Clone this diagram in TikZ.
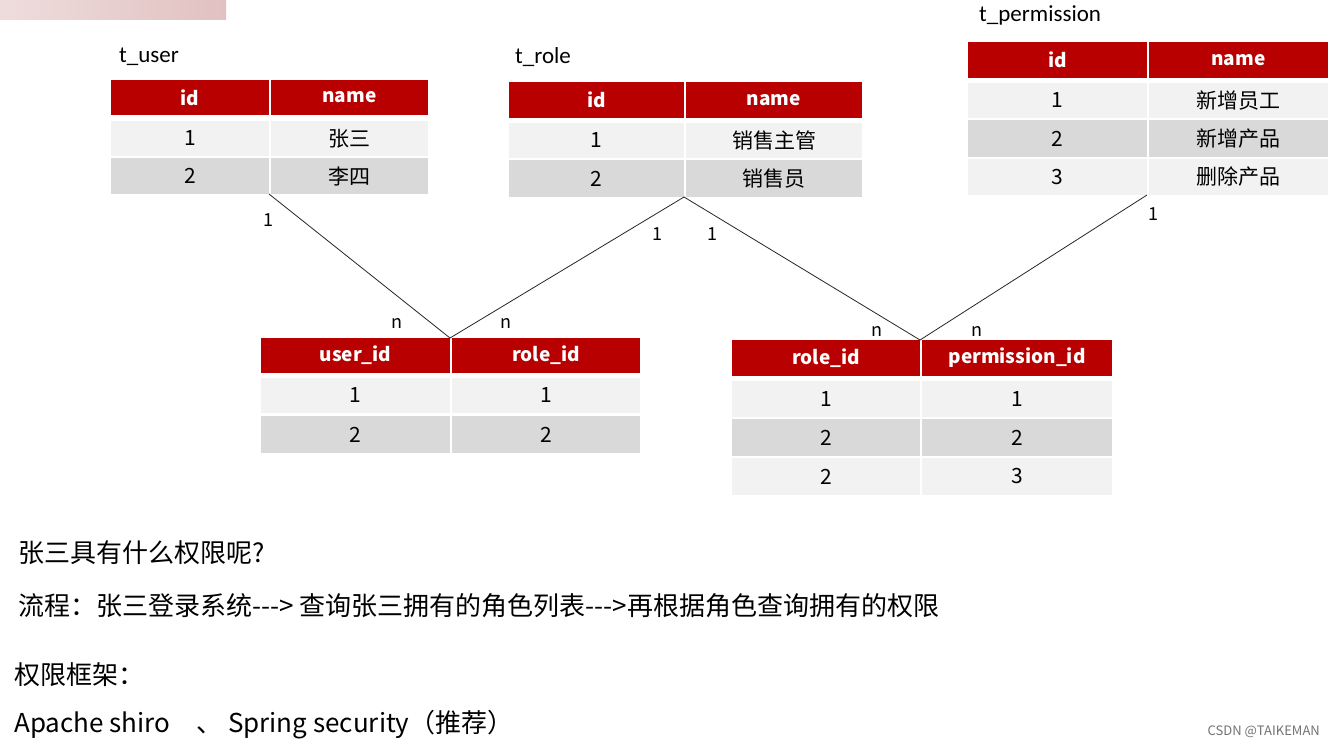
\documentclass[tikz,border=0pt]{standalone}
\usepackage{fontspec}
\setmainfont{Carlito}
\newfontfamily\cjk{Noto Sans CJK SC}
\definecolor{hdrRed}{RGB}{184, 0, 0}
\definecolor{rowLight}{RGB}{242, 242, 242}
\definecolor{rowDark}{RGB}{217, 217, 217}
\definecolor{blurPink}{RGB}{222, 186, 186}
\newcommand{\darr}{-\kern0pt-\kern0pt->}

\tikzset{
  cell/.style={rectangle, inner sep=0pt, outer sep=0pt, anchor=north west, text=black, font=\cjk\fontsize{21}{25}\selectfont},
  hdr/.style={cell, fill=hdrRed, text=white, font=\cjk\bfseries\fontsize{19}{22}\selectfont},
  rowA/.style={cell, fill=rowLight},
  rowB/.style={cell, fill=rowDark},
  ttl/.style={anchor=west, inner sep=0pt, font=\fontsize{23}{26}\selectfont},
  card/.style={inner sep=0pt, font=\cjk\fontsize{18}{20}\selectfont},
  link/.style={line width=0.8pt, black!85},
  txt/.style={anchor=west, inner sep=0pt, font=\cjk\fontsize{26}{30}\selectfont}
}

\begin{document}
\begin{tikzpicture}[x=1pt, y=-1pt]

\useasboundingbox (0,0) rectangle (1335,747);
\fill[white] (0,0) rectangle (1335,747);
\shade[left color=blurPink!50, right color=blurPink!90] (0,0) rectangle (226,19);

%%% T_USER

\node[ttl] (userT) at (119,57) {t\_user};
\node[hdr, minimum width=158, minimum height=35] (user-h1) at (111,80) {id};
\node[hdr, minimum width=157, minimum height=35] (user-h2) at (271,80) {name};
\node[rowA, minimum width=158, minimum height=35] (user-11) at (111,121) {1};
\node[rowA, minimum width=157, minimum height=35] (user-12) at (271,121) {张三};
\node[rowB, minimum width=158, minimum height=36] (user-21) at (111,158) {2};
\node[rowB, minimum width=157, minimum height=36] (user-22) at (271,158) {李四};

%%% T_ROLE

\node[ttl] (roleT) at (515,57) {t\_role};
\node[hdr, minimum width=175, minimum height=36] (role-h1) at (509,82) {id};
\node[hdr, minimum width=176, minimum height=36] (role-h2) at (686,82) {name};
\node[rowA, minimum width=175, minimum height=35] (role-11) at (509,123) {1};
\node[rowA, minimum width=176, minimum height=35] (role-12) at (686,123) {销售主管};
\node[rowB, minimum width=175, minimum height=37] (role-21) at (509,160) {2};
\node[rowB, minimum width=176, minimum height=37] (role-22) at (686,160) {销售员};

%%% T_PERMISSION

\node[ttl] (permT) at (979,15) {t\_permission};
\node[hdr, minimum width=179, minimum height=36] (perm-h1) at (968,42) {id};
\node[hdr, minimum width=179, minimum height=36] (perm-h2) at (1149,42) {name};
\node[rowA, minimum width=179, minimum height=35] (perm-11) at (968,83) {1};
\node[rowA, minimum width=179, minimum height=35] (perm-12) at (1149,83) {新增员工};
\node[rowB, minimum width=179, minimum height=37] (perm-21) at (968,120) {2};
\node[rowB, minimum width=179, minimum height=37] (perm-22) at (1149,120) {新增产品};
\node[rowA, minimum width=179, minimum height=36] (perm-31) at (968,159) {3};
\node[rowA, minimum width=179, minimum height=36] (perm-32) at (1149,159) {删除产品};

%%% USER - ROLE

\node[hdr, minimum width=189, minimum height=35] (ur-h1) at (261,338) {user\_id};
\node[hdr, minimum width=188, minimum height=35] (ur-h2) at (452,338) {role\_id};
\node[rowA, minimum width=189, minimum height=35] (ur-11) at (261,378) {1};
\node[rowA, minimum width=188, minimum height=35] (ur-12) at (452,378) {1};
\node[rowB, minimum width=189, minimum height=37] (ur-21) at (261,416) {2};
\node[rowB, minimum width=188, minimum height=37] (ur-22) at (452,416) {2};

%%% ROLE - PERMISSION

\node[hdr, minimum width=188, minimum height=36] (rp-h1) at (732,340) {role\_id};
\node[hdr, minimum width=190, minimum height=36] (rp-h2) at (922,340) {permission\_id};
\node[rowA, minimum width=188, minimum height=36] (rp-11) at (732,381) {1};
\node[rowA, minimum width=190, minimum height=36] (rp-12) at (922,381) {1};
\node[rowB, minimum width=188, minimum height=37] (rp-21) at (732,419) {2};
\node[rowB, minimum width=190, minimum height=37] (rp-22) at (922,419) {2};
\node[rowA, minimum width=188, minimum height=37] (rp-31) at (732,458) {2};
\node[rowA, minimum width=190, minimum height=37] (rp-32) at (922,458) {3};

%%% LINKS

\draw[link] (user-21.south east) -- (ur-h1.north east);
\draw[link] (role-21.south east) -- (ur-h1.north east);
\draw[link] (role-21.south east) -- (rp-h1.north east);
\draw[link] (perm-31.south east) -- (rp-h1.north east);

\node[card] (c1) at (268,220) {1};
\node[card] (c2) at (397,323) {n};
\node[card] (c3) at (506,323) {n};
\node[card] (c4) at (657,234) {1};
\node[card] (c5) at (712,234) {1};
\node[card] (c6) at (877,331) {n};
\node[card] (c7) at (977,331) {n};
\node[card] (c8) at (1153,214) {1};

%%% NOTES

\node[txt] (ask) at (18,553) {张三具有什么权限呢?};
\node[txt] (flow) at (18,606) {流程：张三登录系统\darr{} 查询张三拥有的角色列表\darr{}再根据角色查询拥有的权限};
\node[txt] (frame) at (14,675) {权限框架：};
\node[txt] (libs) at (14,725) {Apache shiro\quad 、 Spring security（推荐）};

\node[anchor=east, inner sep=0pt, text=black!55, font=\cjk\fontsize{13}{15}\selectfont] (mark) at (1320,732) {CSDN @TAIKEMAN};

\end{tikzpicture}
\end{document}
